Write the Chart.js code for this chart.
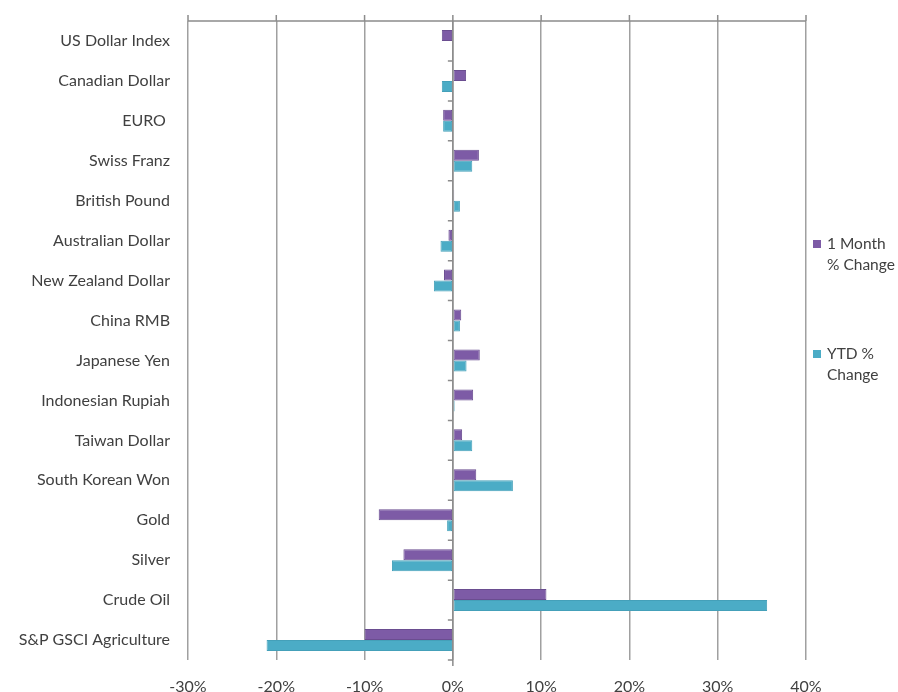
<!DOCTYPE html>
<html>
<head>
<meta charset="utf-8">
<script src="https://cdn.jsdelivr.net/npm/chart.js@4/dist/chart.umd.min.js"></script>
<style>
  html, body { margin: 0; padding: 0; background: #ffffff; }
  #wrap { width: 898px; height: 692px; position: relative; }
</style>
</head>
<body>
<div id="wrap"><canvas id="chart" width="898" height="692"></canvas></div>
<script>
// Markets and their percentage moves
const categories = [
  'US Dollar Index', 'Canadian Dollar', 'EURO ', 'Swiss Franz', 'British Pound',
  'Australian Dollar', 'New Zealand Dollar', 'China RMB', 'Japanese Yen',
  'Indonesian Rupiah', 'Taiwan Dollar', 'South Korean Won', 'Gold', 'Silver',
  'Crude Oil', 'S&P GSCI Agriculture'
];
const oneMonthChange = [
  -1.25, 1.5, -1.1, 2.95, 0.15,
  -0.5, -1.0, 0.95, 3.05,
  2.3, 1.05, 2.65, -8.4, -5.6,
  10.6, -10.0
];
const ytdChange = [
  0, -1.25, -1.1, 2.2, 0.8,
  -1.4, -2.15, 0.8, 1.55,
  0.2, 2.2, 6.8, -0.65, -6.9,
  35.6, -21.1
];
const seriesNames = ['1 Month % Change', 'YTD % Change'];
const legendLines = [['1 Month', '% Change'], ['YTD %', 'Change']];
const xMin = -30, xMax = 40, xStep = 10;

const FONT = 'Lato, "Open Sans", sans-serif';
const TEXT = '#404040';
const GRID = '#a0a0a0';
const AXIS = '#8c8c8c';
const colors = ['#7d5ba6', '#4bacc6'];
const borders = ['#6a4d90', '#44a0b9'];

// Axis lines: top value axis with outward ticks, category axis at zero
const axisLines = {
  id: 'axisLines',
  afterDatasetsDraw(chart) {
    const { ctx, chartArea: a, scales: { x } } = chart;
    ctx.save();
    ctx.strokeStyle = AXIS;
    ctx.lineWidth = 1.5;
    ctx.beginPath();
    ctx.moveTo(a.left, a.top);
    ctx.lineTo(a.right, a.top);
    x.ticks.forEach((t) => {
      const px = x.getPixelForValue(t.value);
      ctx.moveTo(px, a.top);
      ctx.lineTo(px, a.top - 6);
    });
    const zx = x.getPixelForValue(0);
    ctx.moveTo(zx, a.top - 6);
    ctx.lineTo(zx, a.bottom + 6);
    const n = categories.length;
    const step = (a.bottom - a.top) / n;
    for (let i = 1; i <= n; i++) {
      const py = a.top + step * i;
      ctx.moveTo(zx, py);
      ctx.lineTo(zx - 5, py);
    }
    ctx.stroke();
    ctx.restore();
  }
};

// Legend at right with wrapped entries
const sideLegend = {
  id: 'sideLegend',
  afterDraw(chart) {
    const { ctx } = chart;
    const rows = [244, 354];
    ctx.save();
    ctx.font = '15.5px ' + FONT;
    ctx.textBaseline = 'middle';
    ctx.textAlign = 'left';
    legendLines.forEach((lines, i) => {
      const y0 = rows[i];
      ctx.fillStyle = colors[i];
      ctx.fillRect(813, y0 - 4, 8, 8);
      ctx.fillStyle = TEXT;
      lines.forEach((ln, j) => ctx.fillText(ln, 827, y0 + j * 21));
    });
    ctx.restore();
  }
};

new Chart(document.getElementById('chart'), {
  type: 'bar',
  data: {
    labels: categories,
    datasets: [
      { label: seriesNames[0], data: oneMonthChange, backgroundColor: colors[0], borderColor: borders[0], borderWidth: 1, borderSkipped: false },
      { label: seriesNames[1], data: ytdChange, backgroundColor: colors[1], borderColor: borders[1], borderWidth: 1, borderSkipped: false }
    ]
  },
  options: {
    indexAxis: 'y',
    responsive: false,
    animation: false,
    devicePixelRatio: 1,
    layout: { padding: { top: 21, right: 92, left: 0, bottom: 0 } },
    datasets: { bar: { categoryPercentage: 0.55, barPercentage: 1.0 } },
    plugins: { legend: { display: false }, tooltip: { enabled: false } },
    scales: {
      x: {
        min: xMin, max: xMax,
        ticks: {
          stepSize: xStep,
          color: TEXT,
          font: { family: FONT, size: 16 },
          padding: 17,
          callback: (v) => v + '%'
        },
        grid: { color: GRID, lineWidth: 1.5, drawTicks: false },
        border: { display: false },
        afterFit: (s) => { s.height = 32; s.paddingLeft = 0; s.paddingRight = 0; }
      },
      y: {
        ticks: {
          color: TEXT,
          font: { family: FONT, size: 16 },
          padding: 18,
          autoSkip: false
        },
        grid: { display: false, drawTicks: false },
        border: { display: false },
        afterFit: (s) => { s.width = 188; s.paddingTop = 0; s.paddingBottom = 0; }
      }
    }
  },
  plugins: [axisLines, sideLegend]
});
</script>
</body>
</html>
